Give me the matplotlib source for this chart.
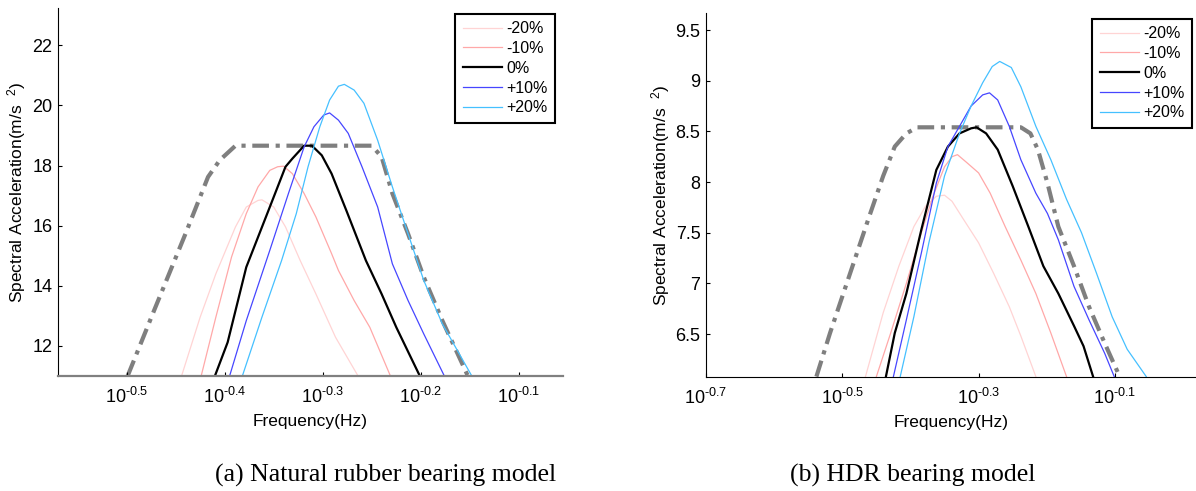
import numpy as np
import matplotlib
matplotlib.use('Agg')
import matplotlib.pyplot as plt
from matplotlib.ticker import FixedLocator, NullLocator

plt.rcParams['font.family'] = ['Liberation Sans', 'DejaVu Sans']
plt.rcParams['mathtext.fontset'] = 'custom'
plt.rcParams['mathtext.rm'] = 'Liberation Sans'
plt.rcParams['mathtext.default'] = 'regular'

# series labels
labels = ['-20%', '-10%', '0%', '+10%', '+20%']

# (a) natural rubber bearing: x values are log10(frequency in Hz)
target_a_x = [-0.499, -0.472, -0.440, -0.417, -0.405, -0.389, -0.250, -0.240, -0.229, -0.213, -0.197, -0.178, -0.152]
target_a_y = [11.0, 13.18, 15.73, 17.62, 18.18, 18.66, 18.66, 18.29, 17.07, 15.73, 14.29, 12.84, 11.0]

m20_a_x = [-0.444, -0.425, -0.409, -0.389, -0.378, -0.366, -0.362, -0.350, -0.338, -0.323, -0.307, -0.287, -0.264]
m20_a_y = [11.0, 12.96, 14.4, 15.96, 16.62, 16.84, 16.86, 16.62, 15.96, 14.84, 13.73, 12.29, 11.0]
m10_a_x = [-0.424, -0.409, -0.393, -0.378, -0.366, -0.354, -0.346, -0.340, -0.331, -0.319, -0.307, -0.291, -0.284, -0.268, -0.252, -0.231]
m10_a_y = [11.0, 12.96, 14.96, 16.4, 17.29, 17.84, 17.96, 17.98, 17.73, 17.07, 16.29, 15.07, 14.51, 13.51, 12.62, 11.0]
zero_a_x = [-0.410, -0.397, -0.378, -0.354, -0.338, -0.331, -0.319, -0.311, -0.301, -0.291, -0.276, -0.256, -0.240, -0.225, -0.201]
zero_a_y = [11.0, 12.12, 14.62, 16.62, 17.96, 18.23, 18.66, 18.66, 18.34, 17.73, 16.51, 14.84, 13.73, 12.62, 11.0]
p10_a_x = [-0.395, -0.378, -0.354, -0.335, -0.319, -0.309, -0.299, -0.293, -0.284, -0.274, -0.260, -0.244, -0.229, -0.213, -0.197, -0.176]
p10_a_y = [11.0, 12.84, 15.18, 17.07, 18.62, 19.29, 19.68, 19.75, 19.51, 19.07, 17.96, 16.62, 14.73, 13.51, 12.4, 11.0]
p20_a_x = [-0.382, -0.362, -0.342, -0.327, -0.315, -0.303, -0.293, -0.284, -0.278, -0.268, -0.258, -0.244, -0.229, -0.213, -0.197, -0.178, -0.148]
p20_a_y = [11.0, 12.96, 14.84, 16.4, 17.96, 19.29, 20.18, 20.64, 20.7, 20.51, 20.07, 18.84, 17.29, 15.73, 14.18, 12.73, 11.0]

# (b) HDR bearing
target_b_x = [-0.538, -0.518, -0.485, -0.462, -0.440, -0.423, -0.406, -0.390, -0.238, -0.224, -0.213, -0.199, -0.183, -0.160, -0.138, -0.115, -0.093]
target_b_y = [6.08, 6.51, 7.17, 7.63, 8.06, 8.35, 8.48, 8.54, 8.54, 8.48, 8.32, 7.99, 7.56, 7.17, 6.77, 6.41, 6.08]

m20_b_x = [-0.466, -0.440, -0.417, -0.395, -0.378, -0.362, -0.350, -0.339, -0.322, -0.300, -0.278, -0.255, -0.238, -0.216]
m20_b_y = [6.08, 6.71, 7.17, 7.56, 7.76, 7.86, 7.87, 7.81, 7.63, 7.40, 7.10, 6.77, 6.48, 6.08]
m10_b_x = [-0.450, -0.429, -0.406, -0.384, -0.367, -0.350, -0.339, -0.331, -0.317, -0.300, -0.283, -0.261, -0.238, -0.216, -0.194, -0.171]
m10_b_y = [6.08, 6.51, 7.0, 7.50, 7.86, 8.15, 8.25, 8.27, 8.19, 8.09, 7.89, 7.56, 7.23, 6.90, 6.51, 6.08]
zero_b_x = [-0.436, -0.423, -0.406, -0.384, -0.362, -0.345, -0.328, -0.311, -0.303, -0.289, -0.272, -0.250, -0.227, -0.205, -0.183, -0.160, -0.146, -0.132]
zero_b_y = [6.08, 6.51, 6.90, 7.53, 8.12, 8.35, 8.48, 8.53, 8.54, 8.48, 8.32, 7.96, 7.56, 7.17, 6.90, 6.58, 6.38, 6.08]
p10_b_x = [-0.425, -0.406, -0.384, -0.362, -0.345, -0.328, -0.311, -0.294, -0.284, -0.272, -0.255, -0.238, -0.216, -0.199, -0.183, -0.160, -0.138, -0.115, -0.101]
p10_b_y = [6.08, 6.64, 7.30, 7.99, 8.35, 8.55, 8.75, 8.86, 8.88, 8.81, 8.55, 8.22, 7.89, 7.69, 7.43, 6.97, 6.64, 6.31, 6.08]
p20_b_x = [-0.415, -0.395, -0.373, -0.350, -0.328, -0.311, -0.294, -0.280, -0.269, -0.252, -0.238, -0.216, -0.194, -0.171, -0.149, -0.127, -0.104, -0.082, -0.054]
p20_b_y = [6.08, 6.67, 7.40, 8.06, 8.48, 8.75, 8.98, 9.14, 9.19, 9.13, 8.94, 8.55, 8.22, 7.83, 7.50, 7.10, 6.67, 6.35, 6.08]

xticks_a = [-0.5, -0.4, -0.3, -0.2, -0.1]
xticks_b = [-0.7, -0.5, -0.3, -0.1]
yticks_a = [12, 14, 16, 18, 20, 22]
yticks_b = [6.5, 7, 7.5, 8, 8.5, 9, 9.5]

colors = ['#ffd4d4', '#ffa8a8', 'black', '#4646ff', '#45c0ff']
widths = [0.9, 0.9, 1.6, 0.9, 0.9]

W, H = 1196, 491
fig = plt.figure(figsize=(W / 100, H / 100), dpi=100)


def setup(ax, xt, yt, xlim, ylim, ylabelx):
    ax.set_xscale('log')
    ax.set_xlim(10 ** xlim[0], 10 ** xlim[1])
    ax.set_ylim(*ylim)
    ax.xaxis.set_major_locator(FixedLocator([10 ** v for v in xt]))
    ax.xaxis.set_minor_locator(NullLocator())
    ax.set_xticklabels([r'$10^{\text{-%g}}$' % abs(v) for v in xt])
    ax.set_yticks(yt)
    ax.set_yticklabels(['%g' % v for v in yt])
    ax.tick_params(direction='in', length=3, width=0.8, labelsize=13, pad=4)
    ax.tick_params(axis='x', pad=8)
    ax.spines['top'].set_visible(False)
    ax.spines['right'].set_visible(False)
    ax.set_xlabel('Frequency(Hz)', fontsize=12.5, labelpad=5)
    ax.set_ylabel('Spectral Acceleration(m/s  $^{2}$)', fontsize=12.5)
    ax.yaxis.set_label_coords(ylabelx, 0.5)


def draw(ax, tx, ty, series):
    ax.plot([10 ** v for v in tx], ty, color='#7f7f7f', lw=3,
            linestyle=(0, (4, 1.6, 1, 1.6)), zorder=1)
    for (sx, sy), lab, c, w in zip(series, labels, colors, widths):
        ax.plot([10 ** v for v in sx], sy, color=c, lw=w, label=lab, zorder=2)


ax1 = fig.add_axes([58 / W, 1 - 376 / H, 505 / W, 368 / H])
draw(ax1, target_a_x, target_a_y,
     [(m20_a_x, m20_a_y), (m10_a_x, m10_a_y), (zero_a_x, zero_a_y),
      (p10_a_x, p10_a_y), (p20_a_x, p20_a_y)])
setup(ax1, xticks_a, yticks_a, (-0.570, -0.055), (11, 23.24), -0.06)
ax1.spines['bottom'].set_color('#808080')
ax1.spines['bottom'].set_linewidth(1.6)

ax2 = fig.add_axes([706 / W, 1 - 377 / H, 490 / W, 364 / H])
draw(ax2, target_b_x, target_b_y,
     [(m20_b_x, m20_b_y), (m10_b_x, m10_b_y), (zero_b_x, zero_b_y),
      (p10_b_x, p10_b_y), (p20_b_x, p20_b_y)])
setup(ax2, xticks_b, yticks_b, (-0.700, 0.019), (6.076, 9.668), -0.07)

for ax, (rx, ty) in [(ax1, (555, 14)), (ax2, (1192, 19))]:
    leg = ax.legend(loc='upper right', bbox_to_anchor=(rx / W, 1 - ty / H),
                    bbox_transform=fig.transFigure, fontsize=11.5,
                    fancybox=False, framealpha=1, edgecolor='black',
                    handlelength=2.5, handletextpad=0.25, labelspacing=0.3,
                    borderpad=0.45, borderaxespad=0)
    leg.get_frame().set_linewidth(1.5)

fig.text(386 / W, 1 - 482 / H, '(a) Natural rubber bearing model',
         family='Liberation Serif', fontsize=18.5, ha='center', va='baseline')
fig.text(913 / W, 1 - 482 / H, '(b) HDR bearing model',
         family='Liberation Serif', fontsize=18.5, ha='center', va='baseline')

fig.savefig('out.png', dpi=100)
